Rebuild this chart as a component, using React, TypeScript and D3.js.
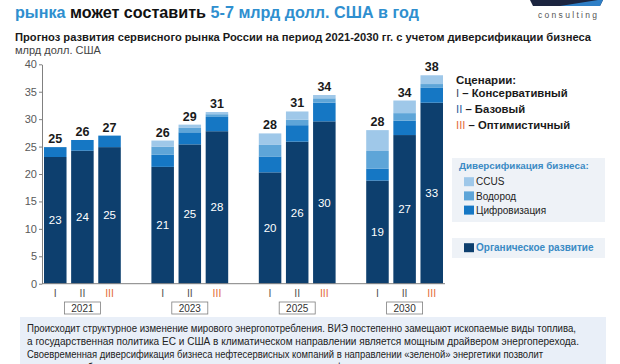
import React, { useRef, useEffect } from 'react'
import * as d3 from 'd3'

// categories
const years = ['2021', '2023', '2025', '2030']
const scenarios = ['I', 'II', 'III']

// series values, year-major order: 2021 I, II, III, 2023 I, ...
const organic = [23.1, 24.25, 24.9, 21.3, 25.4, 27.8, 20.3, 25.9, 29.6, 18.8, 27.1, 33.0]
const digital = [1.8, 1.95, 2.1, 2.2, 2.2, 2.6, 2.9, 3.0, 3.4, 2.2, 2.6, 2.7]
const hydrogen = [0, 0, 0, 1.5, 0.8, 0.5, 2.1, 1.0, 0.8, 3.2, 1.4, 0.7]
const ccus = [0, 0, 0, 1.1, 0.6, 0.4, 2.1, 1.5, 0.6, 3.8, 2.3, 1.6]

// printed labels
const organicLabels = [23, 24, 25, 21, 25, 28, 20, 26, 30, 19, 27, 33]
const totalLabels = [25, 26, 27, 26, 29, 31, 28, 31, 34, 28, 34, 38]
const yTicks = [0, 5, 10, 15, 20, 25, 30, 35, 40]

const seriesKeys = ['organic', 'digital', 'hydrogen', 'ccus']
const seriesColors = ['#0d3f6e', '#1577c4', '#5ea5d8', '#9fc8e9']

const scenarioNames = ['Консервативный', 'Базовый', 'Оптимистичный']
const legendNumColors = ['#3b4a5e', '#2a5d9b', '#e46c3a']
const axisNumColors = ['#555555', '#555555', '#e46c3a']

const diversLegend = ['CCUS', 'Водород', 'Цифровизация']

const noteLines = [
  'Происходит структурное изменение мирового энергопотребления. ВИЭ постепенно замещают ископаемые виды топлива,',
  'а государственная политика ЕС и США в климатическом направлении является мощным драйвером энергоперехода.',
  'Своевременная диверсификация бизнеса нефтесервисных компаний в направлении «зеленой» энергетики позволит',
  'заранее отработать технологии, спрос на которые только начинает формироваться.',
]
const noteWidths = [549, 552, 516, 383]

const FONT = '"Liberation Sans", Arial, sans-serif'

function App() {
  const svgRef = useRef(null)

  useEffect(() => {
    const svg = d3.select(svgRef.current)
    svg.selectAll('*').remove()
    svg.attr('font-family', FONT)

    //Header
    const title = svg
      .append('text')
      .attr('x', 15)
      .attr('y', 18)
      .attr('font-size', 17)
      .attr('font-weight', 'bold')
      .attr('textLength', 404)
      .attr('lengthAdjust', 'spacingAndGlyphs')
    title.append('tspan').attr('fill', '#2f8fcf').text('рынка ')
    title.append('tspan').attr('fill', '#111').text('может составить ')
    title.append('tspan').attr('fill', '#2f8fcf').text('5-7 млрд долл. США в год')

    //Logo
    const logo = svg.append('g')
    logo
      .append('polygon')
      .attr('points', '530,0 603,0 600,6 533,6')
      .attr('fill', '#1c2540')
    logo
      .append('polygon')
      .attr('points', '560,6 598,0 603,0 600,6')
      .attr('fill', '#2f7fc6')
    logo
      .append('text')
      .attr('x', 538)
      .attr('y', 18)
      .attr('font-size', 8.5)
      .attr('fill', '#555')
      .attr('textLength', 59)
      .attr('lengthAdjust', 'spacing')
      .text('consulting')

    svg
      .append('text')
      .attr('x', 15)
      .attr('y', 41)
      .attr('font-size', 11.5)
      .attr('font-weight', 'bold')
      .attr('fill', '#1a1a1a')
      .attr('textLength', 576)
      .attr('lengthAdjust', 'spacingAndGlyphs')
      .text('Прогноз развития сервисного рынка России на период 2021-2030 гг. с учетом диверсификации бизнеса')

    svg
      .append('text')
      .attr('x', 15)
      .attr('y', 54)
      .attr('font-size', 11)
      .attr('fill', '#444')
      .text('млрд долл. США')

    //Scales
    const x0 = d3.scaleBand().domain(years).range([44, 443]).paddingInner(0.285).paddingOuter(0)
    const x1 = d3.scaleBand().domain(scenarios).range([0, x0.bandwidth()]).paddingInner(0.17).paddingOuter(0)
    const y = d3.scaleLinear().domain([0, 40]).range([283.7, 64.3])

    const rows = organic.map((v, i) => ({
      year: years[Math.floor(i / 3)],
      scen: scenarios[i % 3],
      organic: v,
      digital: digital[i],
      hydrogen: hydrogen[i],
      ccus: ccus[i],
      idx: i,
    }))

    const stack = d3.stack<any>().keys(seriesKeys)(rows)

    //Bars
    const bars = svg.append('g')
    stack.forEach((layer, li) => {
      bars
        .append('g')
        .attr('fill', seriesColors[li])
        .selectAll('rect')
        .data(layer.filter((d) => d[1] - d[0] > 0))
        .join('rect')
        .attr('x', (d: any) => (x0(d.data.year) as number) + (x1(d.data.scen) as number))
        .attr('width', x1.bandwidth())
        .attr('y', (d) => y(d[1]))
        .attr('height', (d) => y(d[0]) - y(d[1]))
    })

    //Labels inside organic part
    svg
      .append('g')
      .attr('text-anchor', 'middle')
      .attr('font-size', 11.5)
      .attr('fill', '#fff')
      .selectAll('text')
      .data(rows)
      .join('text')
      .attr('x', (d) => (x0(d.year) as number) + (x1(d.scen) as number) + x1.bandwidth() / 2)
      .attr('y', (d) => y(d.organic / 2) + 4)
      .text((d) => organicLabels[d.idx])

    //Totals
    svg
      .append('g')
      .attr('text-anchor', 'middle')
      .attr('font-size', 12.5)
      .attr('font-weight', 'bold')
      .attr('fill', '#1a1a1a')
      .selectAll('text')
      .data(rows)
      .join('text')
      .attr('x', (d) => (x0(d.year) as number) + (x1(d.scen) as number) + x1.bandwidth() / 2)
      .attr('y', (d) => y(d.organic + d.digital + d.hydrogen + d.ccus) - 4)
      .text((d) => totalLabels[d.idx])

    //Y axis
    const yAxis = svg
      .append('g')
      .attr('transform', 'translate(42,0)')
      .call(d3.axisLeft(y).tickValues(yTicks).tickSize(3).tickSizeOuter(0))
    yAxis.select('.domain').attr('stroke', '#808080')
    yAxis.selectAll('line').attr('stroke', '#808080')
    yAxis
      .selectAll('text')
      .attr('font-size', 11)
      .attr('font-family', FONT)
      .attr('fill', '#595959')
      .attr('x', -5)

    //Baseline
    svg
      .append('line')
      .attr('x1', 42)
      .attr('x2', 445)
      .attr('y1', y(0))
      .attr('y2', y(0))
      .attr('stroke', '#808080')

    //Scenario numerals under bars
    svg
      .append('g')
      .attr('text-anchor', 'middle')
      .attr('font-size', 10.5)
      .selectAll('text')
      .data(rows)
      .join('text')
      .attr('x', (d) => (x0(d.year) as number) + (x1(d.scen) as number) + x1.bandwidth() / 2)
      .attr('y', 297)
      .attr('fill', (d) => axisNumColors[d.idx % 3])
      .text((d) => d.scen)

    //Year boxes
    const yearG = svg
      .append('g')
      .selectAll('g')
      .data(years)
      .join('g')
      .attr('transform', (d) => `translate(${(x0(d) as number) + x0.bandwidth() / 2},0)`)
    yearG
      .append('rect')
      .attr('x', -18)
      .attr('y', 302)
      .attr('width', 36)
      .attr('height', 12)
      .attr('fill', '#fff')
      .attr('stroke', '#7f7f7f')
      .attr('stroke-width', 0.8)
    yearG
      .append('text')
      .attr('text-anchor', 'middle')
      .attr('y', 311.5)
      .attr('font-size', 10)
      .attr('fill', '#333')
      .text((d) => d)

    //Scenario legend
    svg
      .append('text')
      .attr('x', 456)
      .attr('y', 84)
      .attr('font-size', 11.5)
      .attr('font-weight', 'bold')
      .attr('fill', '#1a1a1a')
      .text('Сценарии:')
    scenarios.forEach((s, i) => {
      const t = svg
        .append('text')
        .attr('x', 456)
        .attr('y', 97 + i * 15.8)
        .attr('font-size', 11.3)
        .attr('font-weight', 'bold')
        .attr('fill', '#1a1a1a')
      t.append('tspan').attr('fill', legendNumColors[i]).attr('font-weight', 'normal').text(s)
      t.append('tspan').text(' – ' + scenarioNames[i])
    })

    //Diversification legend
    svg
      .append('rect')
      .attr('x', 452)
      .attr('y', 158)
      .attr('width', 153)
      .attr('height', 64)
      .attr('fill', '#eef2f7')
    svg
      .append('text')
      .attr('x', 459)
      .attr('y', 168.5)
      .attr('font-size', 9.8)
      .attr('font-weight', 'bold')
      .attr('fill', '#3a8ac4')
      .text('Диверсификация бизнеса:')
    diversLegend.forEach((name, i) => {
      const cy = 181.7 + i * 14.2
      svg
        .append('rect')
        .attr('x', 464)
        .attr('y', cy - 4.5)
        .attr('width', 10)
        .attr('height', 9)
        .attr('fill', seriesColors[3 - i])
      svg
        .append('text')
        .attr('x', 476)
        .attr('y', cy + 3.6)
        .attr('font-size', 10)
        .attr('fill', '#222')
        .text(name)
    })

    svg
      .append('rect')
      .attr('x', 452)
      .attr('y', 238)
      .attr('width', 153)
      .attr('height', 20)
      .attr('fill', '#eef2f7')
    svg
      .append('rect')
      .attr('x', 464)
      .attr('y', 243.2)
      .attr('width', 10)
      .attr('height', 9)
      .attr('fill', seriesColors[0])
    svg
      .append('text')
      .attr('x', 476)
      .attr('y', 251.3)
      .attr('font-size', 10)
      .attr('font-weight', 'bold')
      .attr('fill', '#3a8ac4')
      .text('Органическое развитие')

    //Note box
    svg
      .append('rect')
      .attr('x', 20)
      .attr('y', 317)
      .attr('width', 586)
      .attr('height', 60)
      .attr('fill', '#e9eff8')
    svg
      .append('g')
      .attr('font-size', 10.5)
      .attr('fill', '#222')
      .selectAll('text')
      .data(noteLines)
      .join('text')
      .attr('x', 27)
      .attr('y', (d, i) => 331.5 + i * 13)
      .attr('textLength', (d, i) => noteWidths[i])
      .attr('lengthAdjust', 'spacingAndGlyphs')
      .text((d) => d)
  }, [])

  return (
    <svg
      ref={svgRef}
      width={620}
      height={364}
      style={{ position: 'absolute', left: 0, top: 0, background: '#fff' }}
    />
  )
}

export default App
